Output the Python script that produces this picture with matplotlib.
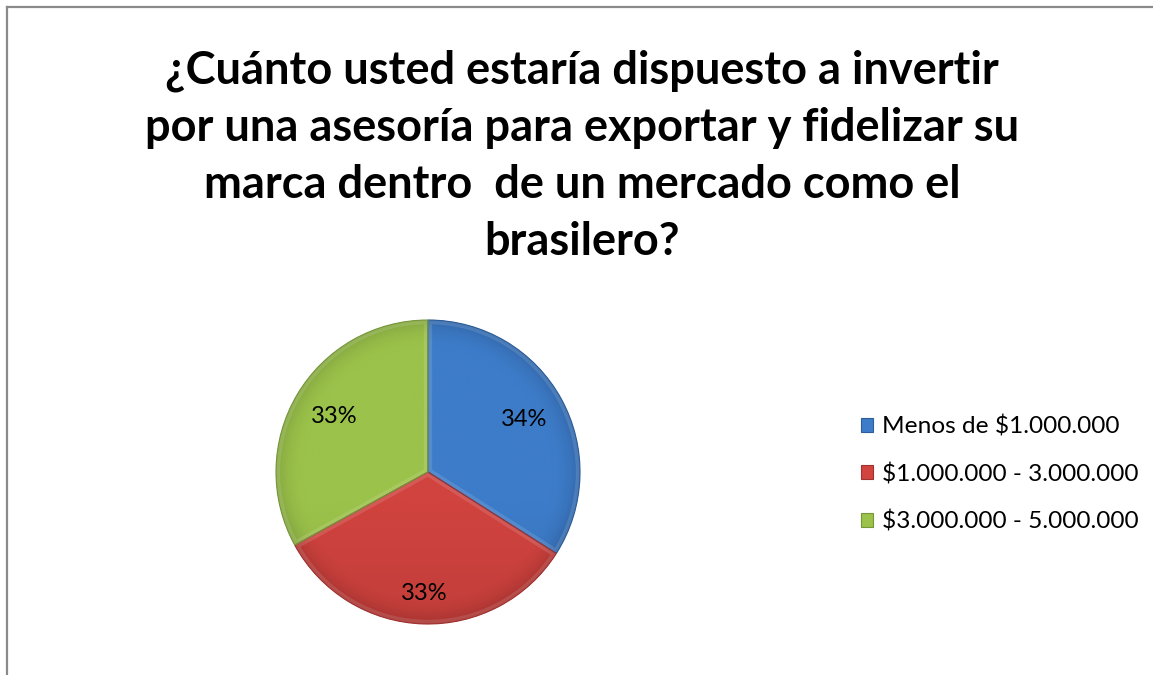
import numpy as np
import matplotlib
matplotlib.use("Agg")
import matplotlib.pyplot as plt
from matplotlib.patches import Wedge
from matplotlib.lines import Line2D

categories = ["Menos de $1.000.000", "$1.000.000 - 3.000.000", "$3.000.000 - 5.000.000"]
shares = [34, 33, 33]
colors = ["#3d7cc9", "#d0433f", "#9bc24a"]
edge_colors = ["#2d5c98", "#a0312e", "#77963a"]

title = ("¿Cuánto usted estaría dispuesto a invertir\n"
         "por una asesoría para exportar y fidelizar su\n"
         "marca dentro  de un mercado como el\n"
         "brasilero?")

plt.rcParams["font.family"] = ["Lato", "DejaVu Sans"]

W, H = 1153, 675
fig = plt.figure(figsize=(W / 100, H / 100), dpi=100)
fig.patch.set_facecolor("white")

# chart frame: only top and left edges show
fig.add_artist(Line2D([6.5 / W, 6.5 / W], [0, 1 - 6.5 / H], transform=fig.transFigure,
                      color="#8a8a8a", lw=1.6))
fig.add_artist(Line2D([6.5 / W, 1], [1 - 6.5 / H, 1 - 6.5 / H], transform=fig.transFigure,
                      color="#8a8a8a", lw=1.6))

fig.text(582 / W, 1 - 156 / H, title, ha="center", va="center", fontsize=32.5,
         fontweight="bold", linespacing=1.44, color="black")

# pie axes: center (428, 472) px, radius 152 px
cx, cy, r = 428, 472, 152
half = 165
ax = fig.add_axes([(cx - half) / W, (H - cy - half) / H, 2 * half / W, 2 * half / H])
ax.axis("off")

wedges, _ = ax.pie(shares, colors=colors, startangle=90, counterclock=False,
                   wedgeprops=dict(edgecolor="none"), radius=1.0)
lim = half / r

# shading: flat body, darker toward the rim and the lower side
n = 300
xs = np.linspace(-1, 1, n)
X, Y = np.meshgrid(xs, xs)
R = np.sqrt(X ** 2 + Y ** 2)
for w, c, ec in zip(wedges, colors, edge_colors):
    c1 = np.array(matplotlib.colors.to_rgb(c))
    c2 = np.array(matplotlib.colors.to_rgb(ec))
    t = np.clip((R - 0.82) / 0.18, 0, 1) ** 2 * 0.6 + np.clip(-Y - 0.2, 0, 1) * 0.35
    t = np.clip(t, 0, 1)
    img = c1[None, None, :] * (1 - t[..., None]) + c2[None, None, :] * t[..., None]
    im = ax.imshow(img, extent=(-1, 1, -1, 1), origin="lower", zorder=2,
                   interpolation="bilinear")
    im.set_clip_path(w)
    # soft bevel highlight just inside the border
    glow = Wedge(w.center, w.r, w.theta1, w.theta2, facecolor="none",
                 edgecolor="white", alpha=0.12, lw=6, zorder=3)
    ax.add_patch(glow)
    glow.set_clip_path(w)
    outline = Wedge(w.center, w.r, w.theta1, w.theta2,
                    facecolor="none", edgecolor=ec, lw=0.8, zorder=4)
    ax.add_patch(outline)
ax.set_xlim(-lim, lim)
ax.set_ylim(-lim, lim)
ax.set_aspect("equal")

# percentage labels
label_dist = [0.72, 0.80, 0.72]
for w, s, d in zip(wedges, shares, label_dist):
    ang = np.deg2rad((w.theta1 + w.theta2) / 2)
    ax.text(d * np.cos(ang), d * np.sin(ang), f"{s}%", ha="center", va="center",
            fontsize=17, color="black", zorder=5)

# legend
leg = fig.legend(wedges, categories, loc="center left",
                 bbox_to_anchor=(839 / W, 1 - 474 / H), frameon=False,
                 fontsize=17.6, handlelength=0.5, handleheight=0.5,
                 handletextpad=0.37, labelspacing=1.04)
for h, ec in zip(leg.legend_handles, edge_colors):
    h.set_edgecolor(ec)
    h.set_linewidth(0.8)

fig.savefig("out.png", dpi=100, facecolor="white")
